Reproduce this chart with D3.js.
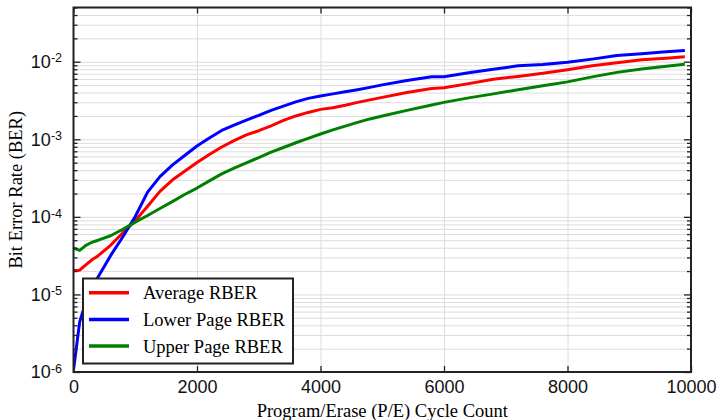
<!DOCTYPE html>
<html>
<head>
<meta charset="utf-8">
<script src="https://cdn.jsdelivr.net/npm/d3@7"></script>
<style>
    body { margin: 0; background: #fff; }
    svg { font-family: "Liberation Serif", "Times New Roman", serif; }
    .grid line { stroke: #dcdcdc; stroke-width: 1; }
    .axis line { stroke: #222; stroke-width: 1.3; }
    .axis text { font-size: 18px; fill: #111; }
</style>
</head>
<body>
<div id="chart"></div>
<script>
// P/E cycle counts where the error rate was sampled
const cycles = [0, 100, 200, 300, 400, 600, 800, 1000, 1200, 1400, 1600, 1800, 2000, 2200, 2400,
    2600, 2800, 3000, 3200, 3400, 3600, 3800, 4000, 4200, 4400, 4600, 4800, 5000, 5400, 5800,
    6000, 6400, 6800, 7200, 7600, 8000, 8400, 8800, 9200, 9600, 9900];

const averageRber = [2.04e-5, 2.05e-5, 2.41e-5, 2.80e-5, 3.16e-5, 4.30e-5, 6.25e-5, 8.93e-5, 1.37e-4,
    2.13e-4, 2.98e-4, 3.88e-4, 5.01e-4, 6.37e-4, 7.96e-4, 9.59e-4, 1.14e-3, 1.29e-3, 1.49e-3,
    1.75e-3, 2.00e-3, 2.22e-3, 2.43e-3, 2.55e-3, 2.74e-3, 2.99e-3, 3.22e-3, 3.47e-3, 4.00e-3,
    4.51e-3, 4.61e-3, 5.22e-3, 5.93e-3, 6.47e-3, 7.08e-3, 7.89e-3, 8.85e-3, 9.68e-3, 1.06e-2,
    1.11e-2, 1.16e-2];

const lowerPageRber = [1.06e-6, 4.43e-6, 8.01e-6, 1.25e-5, 1.69e-5, 3.16e-5, 5.54e-5, 1.01e-4, 2.08e-4,
    3.30e-4, 4.65e-4, 6.18e-4, 8.18e-4, 1.04e-3, 1.30e-3, 1.52e-3, 1.77e-3, 2.03e-3, 2.36e-3,
    2.68e-3, 3.04e-3, 3.37e-3, 3.62e-3, 3.85e-3, 4.09e-3, 4.36e-3, 4.67e-3, 5.03e-3, 5.73e-3,
    6.38e-3, 6.41e-3, 7.19e-3, 8.02e-3, 8.85e-3, 9.22e-3, 9.82e-3, 1.08e-2, 1.20e-2, 1.27e-2,
    1.34e-2, 1.40e-2];

const upperPageRber = [3.96e-5, 3.69e-5, 4.30e-5, 4.71e-5, 5.00e-5, 5.71e-5, 6.93e-5, 8.55e-5, 1.04e-4,
    1.28e-4, 1.57e-4, 1.94e-4, 2.35e-4, 2.91e-4, 3.58e-4, 4.24e-4, 4.95e-4, 5.82e-4, 6.85e-4,
    7.83e-4, 9.02e-4, 1.03e-3, 1.17e-3, 1.32e-3, 1.48e-3, 1.65e-3, 1.83e-3, 2.00e-3, 2.36e-3,
    2.76e-3, 2.99e-3, 3.42e-3, 3.85e-3, 4.36e-3, 4.89e-3, 5.50e-3, 6.38e-3, 7.29e-3, 8.05e-3,
    8.73e-3, 9.25e-3];

const seriesNames = ["Average RBER", "Lower Page RBER", "Upper Page RBER"];
const seriesColors = ["#ff0000", "#0000ff", "#008000"];

const xTicks = [0, 2000, 4000, 6000, 8000, 10000];
const yTickExps = [-6, -5, -4, -3, -2];

// layout
const W = 717, H = 420;
const margin = {top: 7.5, right: 26, bottom: 48, left: 73.5};
const width = W - margin.left - margin.right;
const height = H - margin.top - margin.bottom;

const svg = d3.select("#chart").append("svg")
    .attr("width", W)
    .attr("height", H);

const g = svg.append("g")
    .attr("transform", `translate(${margin.left},${margin.top})`);

const x = d3.scaleLinear().domain([0, 10000]).range([0, width]);
const y = d3.scaleLog().domain([1e-6, 0.05]).range([height, 0]);

const yMajor = yTickExps.map(e => Math.pow(10, e));
const yAll = y.ticks();
const yMinor = yAll.filter(v => !yMajor.some(m => Math.abs(m - v) / m < 1e-6));

// grid lines
g.append("g").attr("class", "grid")
    .call(d3.axisLeft(y).tickValues(yAll).tickSize(-width).tickFormat(""))
    .call(s => s.select(".domain").remove());

g.append("g").attr("class", "grid")
    .attr("transform", `translate(0,${height})`)
    .call(d3.axisBottom(x).tickValues(xTicks.slice(1, -1)).tickSize(-height).tickFormat(""))
    .call(s => s.select(".domain").remove());

// curves
g.append("clipPath").attr("id", "plotClip")
    .append("rect").attr("width", width).attr("height", height);

const allSeries = [averageRber, lowerPageRber, upperPageRber];
const line = d3.line()
    .x((d, i) => x(cycles[i]))
    .y(d => y(d));

g.append("g").attr("clip-path", "url(#plotClip)")
    .selectAll("path")
    .data(allSeries)
    .enter().append("path")
    .attr("d", line)
    .attr("fill", "none")
    .attr("stroke", (d, i) => seriesColors[i])
    .attr("stroke-width", 3)
    .attr("stroke-linejoin", "round");

// axes, ticks pointing inward
const yAxis = g.append("g").attr("class", "axis")
    .call(d3.axisLeft(y).tickValues(yMajor).tickSize(-7).tickPadding(11.5).tickFormat(""));
yAxis.select(".domain").remove();
yAxis.selectAll(".tick text").each(function (d, i) {
    const t = d3.select(this);
    t.append("tspan").text("10");
    t.append("tspan").attr("dy", "-0.45em").style("font-size", "12.5px").text(yTickExps[i]);
});

g.append("g").attr("class", "axis")
    .call(d3.axisLeft(y).tickValues(yMinor).tickSize(-4).tickFormat(""))
    .call(s => s.select(".domain").remove());

g.append("g").attr("class", "axis")
    .attr("transform", `translate(${width},0)`)
    .call(d3.axisRight(y).tickValues(yMajor).tickSize(-7).tickFormat(""))
    .call(s => s.select(".domain").remove());

g.append("g").attr("class", "axis")
    .attr("transform", `translate(${width},0)`)
    .call(d3.axisRight(y).tickValues(yMinor).tickSize(-4).tickFormat(""))
    .call(s => s.select(".domain").remove());

g.append("g").attr("class", "axis")
    .attr("transform", `translate(0,${height})`)
    .call(d3.axisBottom(x).tickValues(xTicks).tickSize(-6).tickPadding(8.5).tickFormat(d3.format("d")))
    .call(s => s.select(".domain").remove());

g.append("g").attr("class", "axis")
    .call(d3.axisTop(x).tickValues(xTicks).tickSize(-6).tickFormat(""))
    .call(s => s.select(".domain").remove());

// frame
g.append("rect")
    .attr("width", width)
    .attr("height", height)
    .attr("fill", "none")
    .attr("stroke", "#222")
    .attr("stroke-width", 2);

// axis titles
svg.append("text")
    .attr("x", margin.left + width / 2)
    .attr("y", 417)
    .attr("text-anchor", "middle")
    .style("font-size", "18.5px")
    .text("Program/Erase (P/E) Cycle Count");

svg.append("text")
    .attr("transform", `translate(21.5,${margin.top + height / 2}) rotate(-90)`)
    .attr("text-anchor", "middle")
    .style("font-size", "18.5px")
    .text("Bit Error Rate (BER)");

// legend
const legend = g.append("g")
    .attr("transform", `translate(${83 - margin.left},${278.5 - margin.top})`);

legend.append("rect")
    .attr("width", 210)
    .attr("height", 85)
    .attr("fill", "#fff")
    .attr("stroke", "#222")
    .attr("stroke-width", 2);

const items = legend.selectAll(".item")
    .data(seriesNames)
    .enter().append("g")
    .attr("class", "item")
    .attr("transform", (d, i) => `translate(0,${14.2 + i * 26.7})`);

items.append("line")
    .attr("x1", 6).attr("x2", 46)
    .attr("stroke", (d, i) => seriesColors[i])
    .attr("stroke-width", 3.5);

items.append("text")
    .attr("x", 60)
    .attr("y", 6.6)
    .style("font-size", "18.5px")
    .text(d => d);
</script>
</body>
</html>
